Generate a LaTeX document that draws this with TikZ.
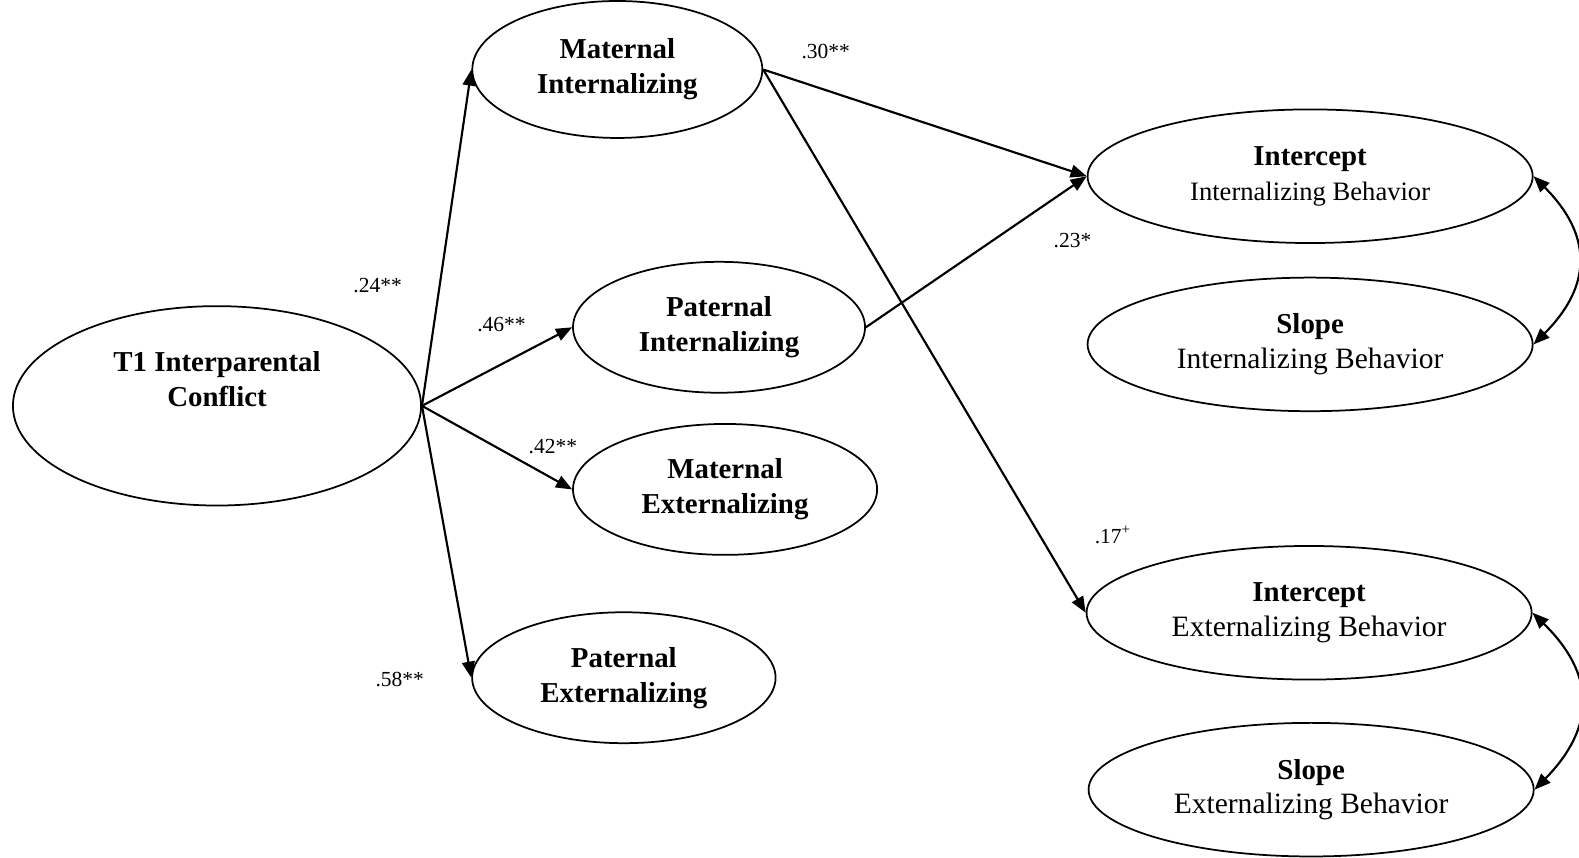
\documentclass[tikz,border=0pt]{standalone}
\usepackage{fontspec}
\setmainfont{Liberation Serif}
\usetikzlibrary{shapes.geometric, arrows.meta, positioning}
\tikzstyle{latent} = [ellipse, draw, line width=1.3pt, align=center, inner sep=0pt, font=\fontsize{21.5}{26}\selectfont\bfseries]
\tikzstyle{growth} = [latent, minimum width=331.5pt, minimum height=99.5pt]
\tikzstyle{arrow} = [line width=1.6pt, -{Triangle[length=12pt, width=9.5pt]}]
\tikzstyle{covar} = [line width=1.6pt, {Triangle[length=12pt, width=9.5pt]}-{Triangle[length=12pt, width=9.5pt]}]
\tikzstyle{coef} = [inner sep=0pt, font=\fontsize{16}{18}\selectfont]
\newcommand{\subline}[2][22]{{\mdseries\fontsize{#1}{26}\selectfont #2}}

\begin{document}
\begin{tikzpicture}[x=0.75pt, y=-0.75pt, node distance=125.25pt]
    \useasboundingbox (0,0) rectangle (1568,852);

    % Predictor
    \node (t1) [latent, minimum width=304pt, minimum height=148.5pt, text depth=40pt] at (215.5,403) {T1 Interparental\\Conflict};

    % Parent symptoms
    \node (matint) [latent, minimum width=216pt, minimum height=102pt] at (613,69) {Maternal\\Internalizing};
    \node (patint) [latent, minimum width=217.5pt, minimum height=97.5pt] at (714,325) {Paternal\\Internalizing};
    \node (matext) [latent, minimum width=226.5pt, minimum height=97.5pt] at (720,486) {Maternal\\Externalizing};
    \node (patext) [latent, minimum width=226pt, minimum height=97.5pt] at (619.5,673) {Paternal\\Externalizing};

    % Growth factors
    \node (iint) [growth] at (1301,175) {Intercept\\\subline[19.8]{Internalizing Behavior}};
    \node (sint) [growth, below of=iint] {Slope\\\subline{Internalizing Behavior}};
    \node (iext) [growth] at (1300,608.5) {Intercept\\\subline{Externalizing Behavior}};
    \node (sext) [growth, below of=iext, xshift=1.5pt, yshift=-6.5pt] {Slope\\\subline{Externalizing Behavior}};

    % Coefficients
    \node (b1) [coef] at (375,284) {.24**};
    \node (b2) [coef] at (498,322) {.46**};
    \node (b3) [coef] at (549,443) {.42**};
    \node (b4) [coef] at (397,675) {.58**};
    \node (b5) [coef] at (820,51) {.30**};
    \node (b6) [coef] at (1065,239) {.23*};
    \node (b7) [coef] at (1105,531) {.17\textsuperscript{+}};

    % ==== Arrows
    \draw [arrow] (t1.east) -- (matint.west);
    \draw [arrow] (t1.east) -- (patint.west);
    \draw [arrow] (t1.east) -- (matext.west);
    \draw [arrow] (t1.east) -- (patext.west);

    \draw [arrow] (matint.east) -- (iint.west);
    \draw [arrow] (patint.east) -- (iint.west);
    \draw [arrow] (matint.east) -- (iext.west);

    % Covariances
    \draw [covar] (iint.east) to[bend left=45, looseness=1.27] (sint.east);
    \draw [covar] (iext.east) to[bend left=45, looseness=1.27] (sext.east);

\end{tikzpicture}
\end{document}
